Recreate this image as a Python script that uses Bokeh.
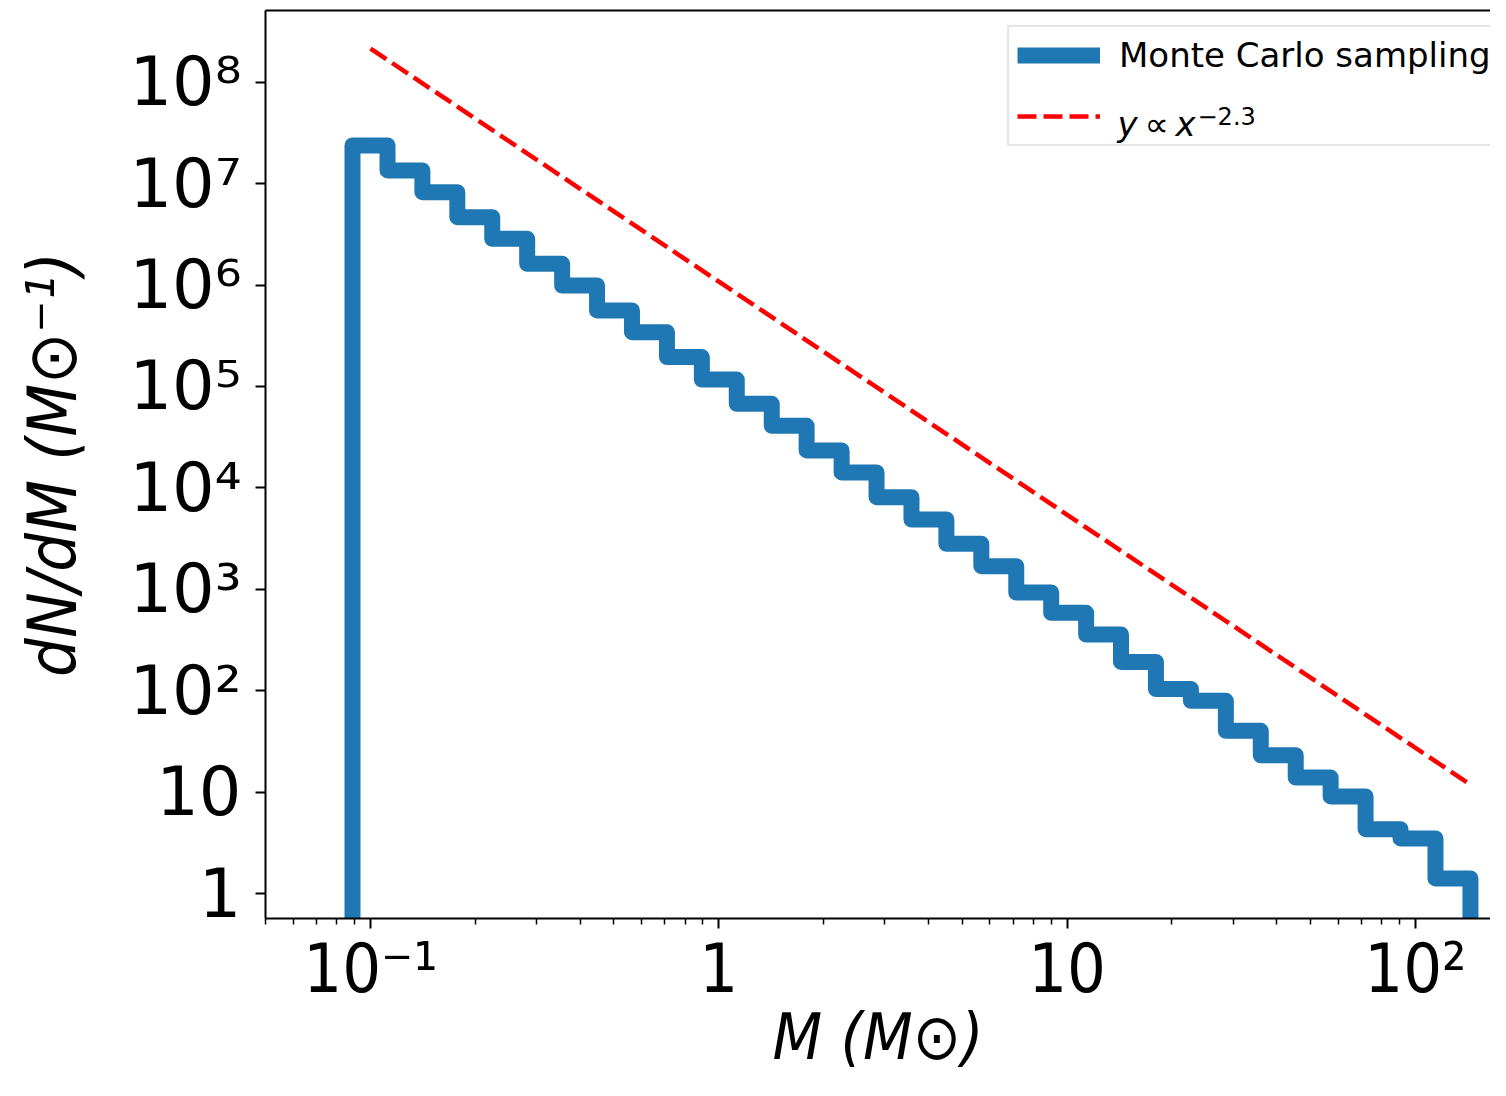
import numpy as np
from bokeh.plotting import figure
from bokeh.models import FixedTicker, LogAxis, Legend, LegendItem, Label, Range1d
from bokeh.embed import file_html
from bokeh.resources import INLINE

# ---- data ----
bin_edges = [0.08876, 0.1119, 0.1409, 0.1775, 0.2236, 0.2817, 0.3549, 0.4471,
             0.5632, 0.7096, 0.8939, 1.126, 1.419, 1.787, 2.252, 2.837, 3.574,
             4.502, 5.672, 7.145, 9.001, 11.34, 14.28, 17.99, 22.67, 28.56,
             35.98, 45.33, 57.10, 71.94, 90.63, 114.2, 143.9]
dndm = [2.38e7, 1.35e7, 8.24e6, 4.67e6, 2.86e6, 1.62e6, 9.9e5, 5.62e5,
        3.43e5, 1.95e5, 1.17e5, 6.75e4, 4.09e4, 2.34e4, 1.42e4, 8.09e3,
        4.88e3, 2.81e3, 1.69e3, 930, 586, 358, 192, 104, 79.4, 40.2,
        23.1, 13.9, 9.06, 4.31, 3.49, 1.41]
powerlaw_m = [0.1, 141.0]
powerlaw_y = [2.15e8, 12.4]

x_tick_values = [0.1, 1, 10, 100]
x_tick_labels = ["10⁻¹", "1", "10", "10²"]
y_tick_values = [1, 10, 100, 1e3, 1e4, 1e5, 1e6, 1e7, 1e8]
y_tick_labels = ["1", "10", "10²", "10³", "10⁴", "10⁵", "10⁶", "10⁷", "10⁸"]

x_lo, x_hi = 0.04994, 164.3
y_lo, y_hi = 0.567, 5.1e8
baseline = 1e-3  # histogram outer edges drop to zero (below the axis)

p = figure(width=1490, height=1080, x_axis_type="log", y_axis_type="log",
           x_range=Range1d(x_lo, x_hi), y_range=Range1d(y_lo, y_hi),
           output_backend="svg", toolbar_location=None,
           min_border_left=265, min_border_right=0, min_border_top=10,
           min_border_bottom=162)
p.outline_line_color = None
p.grid.visible = False
p.background_fill_color = "white"

xs = np.repeat(bin_edges, 2)
ys = np.concatenate([[baseline], np.repeat(dndm, 2), [baseline]])
step_r = p.line(xs, ys, line_color="#1f77b4", line_width=16, line_join="round")
pl_r = p.line(powerlaw_m, powerlaw_y, line_color="red", line_width=4.5,
              line_dash="19 7")

# axes
minor_x = [m * 10.0 ** d for d in range(-2, 3) for m in range(2, 10)
           if x_lo < m * 10.0 ** d < x_hi]
p.xaxis.ticker = FixedTicker(ticks=x_tick_values, minor_ticks=minor_x)
p.yaxis.ticker = FixedTicker(ticks=y_tick_values, minor_ticks=[])
p.xaxis.major_label_overrides = dict(zip(x_tick_values, x_tick_labels))
p.yaxis.major_label_overrides = dict(zip(y_tick_values, y_tick_labels))

for ax in (p.xaxis, p.yaxis):
    ax.axis_line_width = 2
    ax.axis_line_color = "black"
    ax.major_tick_line_width = 2
    ax.major_tick_line_color = "black"
    ax.minor_tick_line_width = 1.5
    ax.minor_tick_line_color = "black"
    ax.major_tick_out = 10
    ax.major_tick_in = 0
    ax.minor_tick_out = 6
    ax.minor_tick_in = 0
    ax.major_label_text_color = "black"
    ax.axis_label_text_color = "black"
    ax.axis_label_text_font_style = "italic"

p.xaxis.major_label_text_font = "DejaVu Sans Condensed"
p.xaxis.major_label_text_font_size = "68px"
p.xaxis.major_label_standoff = 0
p.xaxis.axis_label = "M (M⊙)"
p.xaxis.axis_label_text_font = "DejaVu Sans Condensed"
p.xaxis.axis_label_text_font_size = "64px"
p.xaxis.axis_label_standoff = -11

p.yaxis.major_label_text_font = "DejaVu Sans"
p.yaxis.major_label_text_font_size = "67px"
p.yaxis.major_label_standoff = 14
p.yaxis.axis_label = "dN/dM (M⊙⁻¹)"
p.yaxis.axis_label_text_font = "DejaVu Sans Condensed"
p.yaxis.axis_label_text_font_size = "68px"
p.yaxis.axis_label_standoff = 34

top_axis = LogAxis(ticker=FixedTicker(ticks=[], minor_ticks=[]),
                   major_tick_out=0, major_tick_in=0, minor_tick_out=0,
                   minor_tick_in=0, major_label_text_font_size="0px",
                   major_label_standoff=0, axis_line_width=2,
                   axis_line_color="black")
p.add_layout(top_axis, "above")

legend = Legend(items=[LegendItem(label="Monte Carlo sampling", renderers=[step_r]),
                       LegendItem(label=" ", renderers=[pl_r])],
                location=(742, 772), margin=0, padding=8,
                glyph_width=83, glyph_height=40, label_height=40,
                label_standoff=19, spacing=21,
                label_text_font="DejaVu Sans", label_text_font_size="34px",
                label_text_color="black",
                border_line_color="#cccccc", border_line_width=2,
                background_fill_alpha=0.0)
p.add_layout(legend)

p.add_layout(Label(x=852, y=795, x_units="screen", y_units="screen",
                   text="y\u2009∝\u2009x", text_font="DejaVu Sans",
                   text_font_style="italic", text_font_size="34px",
                   text_color="black", text_baseline="alphabetic",
                   text_align="left", level="overlay"))
p.add_layout(Label(x=932, y=803, x_units="screen", y_units="screen",
                   text="−2.3", text_font="DejaVu Sans",
                   text_font_size="24px", text_color="black",
                   text_baseline="alphabetic", text_align="left",
                   level="overlay"))

open("out.html", "w").write(file_html(p, INLINE))
